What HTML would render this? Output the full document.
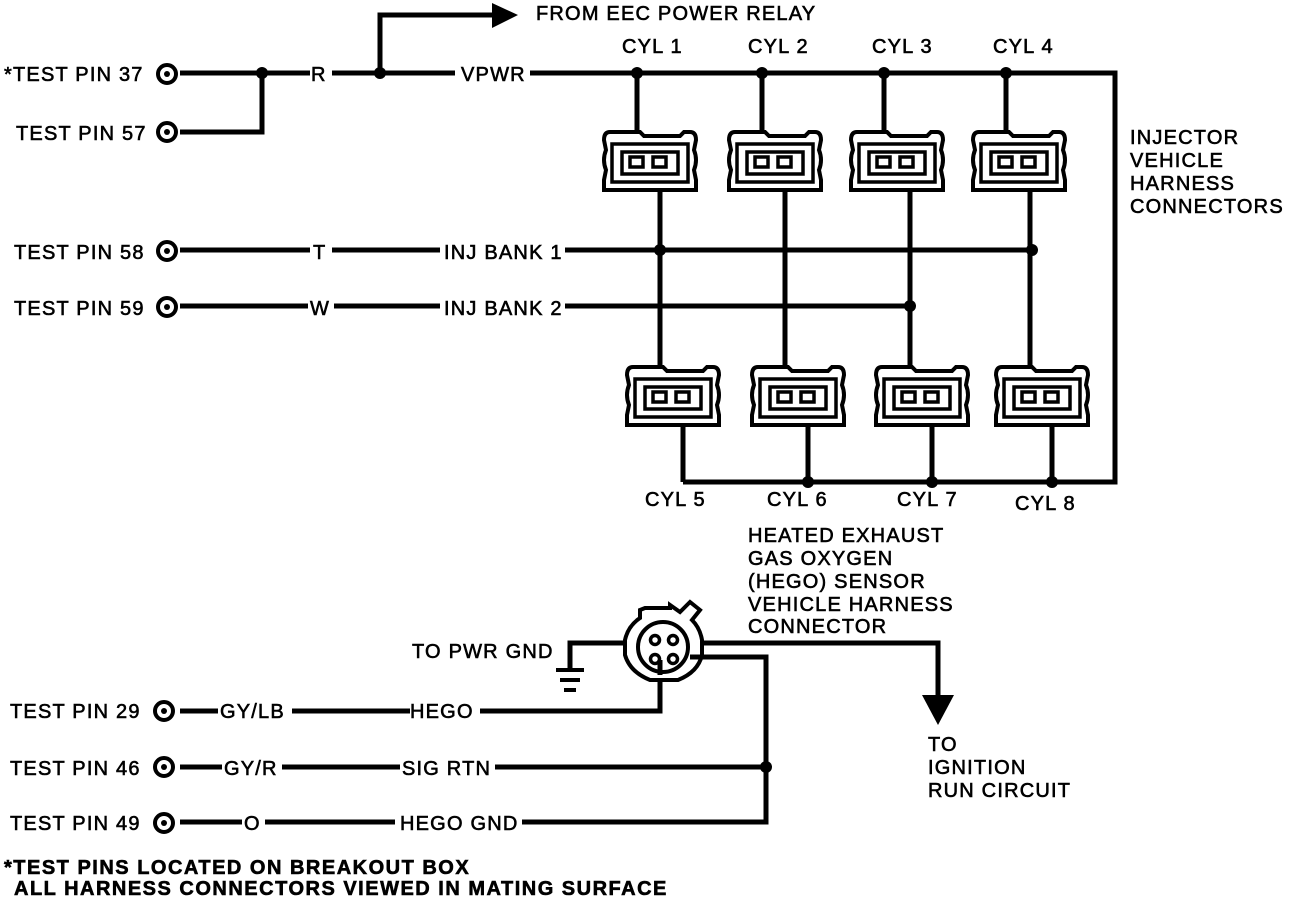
<!DOCTYPE html>
<html><head><meta charset="utf-8"><style>
html,body{margin:0;padding:0;background:#fff;}
svg{display:block}
text{font-family:"Liberation Sans",Arial,sans-serif;font-size:20px;fill:#000;letter-spacing:1.2px;stroke:#000;stroke-width:0.6px;}
</style></head><body>
<svg width="1312" height="902" viewBox="0 0 1312 902" xmlns="http://www.w3.org/2000/svg">
<defs>
<g id="conn">
<path d="M-40,-28 H-10 L-6,-24 H30 L34,-28 H40 Q46,-28 46,-20 L44,-10 Q48,0 44,10 L46,20 V30 H-46 V20 L-44,10 Q-48,0 -44,-10 L-46,-20 Q-46,-28 -40,-28 Z" fill="#fff" stroke="#000" stroke-width="4"/>
<path d="M-38,-16 H38 V22 H-38 Z" fill="none" stroke="#000" stroke-width="3.5"/>
<path d="M-28,-8 H28 V14 H-28 Z" fill="none" stroke="#000" stroke-width="3.5"/>
<rect x="-20" y="-3" width="13" height="10" fill="#fff" stroke="#000" stroke-width="3.5"/>
<rect x="3" y="-3" width="13" height="10" fill="#fff" stroke="#000" stroke-width="3.5"/>
</g>
</defs>
<g stroke="#000" stroke-width="5" fill="none">
<path d="M180,73 H310 M332,73 H455 M530,73 H1115 V482 H683"/>
<path d="M262,73 V132 H180"/>
<path d="M380,73 V15 H495"/>
<path d="M637,73 V160 M762,73 V160 M884,73 V160 M1006,73 V160"/>
<path d="M660,160 V392 M785,160 V392 M910,160 V392 M1030,160 V392"/>
<path d="M683,395 V482 M808,395 V482 M932,395 V482 M1052,395 V482"/>
<path d="M180,250 H310 M332,250 H440 M565,250 H1032"/>
<path d="M180,306 H308 M334,306 H440 M565,306 H910"/>
<path d="M180,711 H218 M292,711 H410 M480,711 H660 V652"/>
<path d="M180,767 H222 M282,767 H400 M495,767 H766"/>
<path d="M180,822 H242 M265,822 H395 M522,822 H766 V657 H690"/>
<path d="M625,643 H570 V668"/>
<path d="M700,643 H938 V700"/>
</g>
<polygon points="492,3 518,15 492,28" fill="#000"/>
<polygon points="922,695 954,695 938,725" fill="#000"/>
<g stroke="#000" stroke-width="4">
<line x1="556" y1="670" x2="584" y2="670"/>
<line x1="560" y1="680" x2="580" y2="680"/>
<line x1="564" y1="690" x2="576" y2="690"/>
</g>
<g fill="#000">
<circle cx="262" cy="73" r="6"/><circle cx="380" cy="73" r="6"/>
<circle cx="637" cy="73" r="6"/><circle cx="762" cy="73" r="6"/><circle cx="884" cy="73" r="6"/><circle cx="1006" cy="73" r="6"/>
<circle cx="660" cy="250" r="6"/><circle cx="1032" cy="250" r="6"/><circle cx="910" cy="306" r="6"/>
<circle cx="808" cy="482" r="6"/><circle cx="932" cy="482" r="6"/><circle cx="1052" cy="482" r="6"/>
<circle cx="766" cy="767" r="6"/>
</g>
<g fill="#fff" stroke="#000" stroke-width="4">
<circle cx="167" cy="74" r="9"/><circle cx="167" cy="132" r="9"/>
<circle cx="167" cy="251" r="9"/><circle cx="167" cy="307" r="9"/>
<circle cx="164" cy="711" r="9"/><circle cx="164" cy="767" r="9"/><circle cx="164" cy="823" r="9"/>
</g>
<g fill="#000"><circle cx="167" cy="74" r="3"/><circle cx="167" cy="132" r="3"/><circle cx="167" cy="251" r="3"/><circle cx="167" cy="307" r="3"/><circle cx="164" cy="711" r="3"/><circle cx="164" cy="767" r="3"/><circle cx="164" cy="823" r="3"/></g>
<use href="#conn" x="650" y="160"/><use href="#conn" x="775" y="160"/><use href="#conn" x="897" y="160"/><use href="#conn" x="1019" y="160"/>
<use href="#conn" x="673" y="395"/><use href="#conn" x="798" y="395"/><use href="#conn" x="922" y="395"/><use href="#conn" x="1042" y="395"/>
<g stroke="#000" stroke-width="4" fill="#fff">
<path d="M640,610 V618 Q628,626 625,640 V655 Q630,672 650,680 H678 Q698,672 702,655 V640 Q700,628 692,620 L700,610 L690,602 L680,612 L670,605 V608 H645 Z"/>
<circle cx="663" cy="647" r="25"/>
</g>
<g stroke="#000" stroke-width="3.5" fill="#fff">
<circle cx="655" cy="640" r="4.5"/><circle cx="673" cy="640" r="4.5"/><circle cx="655" cy="659" r="4.5"/><circle cx="673" cy="659" r="4.5"/>
</g>
<path d="M702,643 H712 M690,657 H702" stroke="#000" stroke-width="5"/>
<path d="M660,660 V675" stroke="#000" stroke-width="5"/>
<text x="536" y="20">FROM EEC POWER RELAY</text>
<text x="622" y="53">CYL 1</text><text x="748" y="53">CYL 2</text><text x="872" y="53">CYL 3</text><text x="993" y="53">CYL 4</text>
<text x="4" y="81">*TEST PIN 37</text>
<text x="16" y="140">TEST PIN 57</text>
<text x="311" y="81">R</text>
<text x="461" y="81">VPWR</text>
<text x="1130" y="144">INJECTOR</text><text x="1130" y="167">VEHICLE</text><text x="1130" y="190">HARNESS</text><text x="1130" y="213">CONNECTORS</text>
<text x="14" y="259">TEST PIN 58</text>
<text x="313" y="259">T</text>
<text x="444" y="259">INJ BANK 1</text>
<text x="14" y="315">TEST PIN 59</text>
<text x="310" y="315">W</text>
<text x="444" y="315">INJ BANK 2</text>
<text x="645" y="506">CYL 5</text><text x="767" y="506">CYL 6</text><text x="897" y="506">CYL 7</text><text x="1015" y="510">CYL 8</text>
<text x="748" y="542">HEATED EXHAUST</text><text x="748" y="565">GAS OXYGEN</text><text x="748" y="588">(HEGO) SENSOR</text><text x="748" y="611">VEHICLE HARNESS</text><text x="748" y="633">CONNECTOR</text>
<text x="412" y="658">TO PWR GND</text>
<text x="10" y="718">TEST PIN 29</text><text x="220" y="718">GY/LB</text><text x="410" y="718">HEGO</text>
<text x="10" y="775">TEST PIN 46</text><text x="224" y="775">GY/R</text><text x="402" y="775">SIG RTN</text>
<text x="10" y="830">TEST PIN 49</text><text x="244" y="830">O</text><text x="400" y="830">HEGO GND</text>
<text x="928" y="751">TO</text><text x="928" y="774">IGNITION</text><text x="928" y="797">RUN CIRCUIT</text>
<text x="4" y="874" font-weight="bold" font-size="20" style="letter-spacing:1.5px">*TEST PINS LOCATED ON BREAKOUT BOX</text>
<text x="14" y="895" font-weight="bold" font-size="20" style="letter-spacing:1.5px">ALL HARNESS CONNECTORS VIEWED IN MATING SURFACE</text>
</svg>
</body></html>
